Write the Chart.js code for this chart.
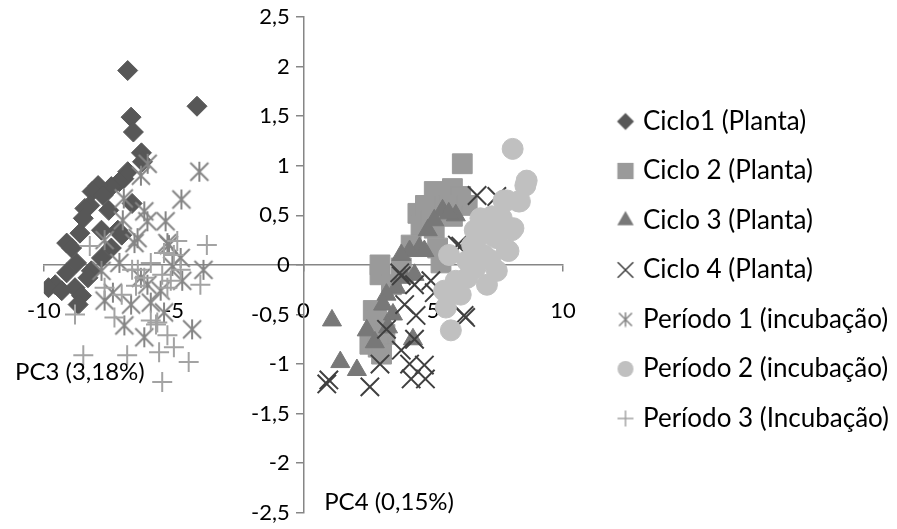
<!DOCTYPE html>
<html>
<head>
<meta charset="utf-8">
<script src="https://cdn.jsdelivr.net/npm/chart.js@4.4.1/dist/chart.umd.min.js"></script>
<style>
  html, body { margin: 0; padding: 0; background: #fff; }
  #wrap { width: 897px; height: 529px; position: relative; }
</style>
</head>
<body>
<div id="wrap"><canvas id="pcaChart"></canvas></div>
<script>
// PC3 x PC4 scores per group
const seriesNames = [
  'Ciclo1 (Planta)', 'Ciclo 2 (Planta)', 'Ciclo 3 (Planta)', 'Ciclo 4 (Planta)',
  'Período 1 (incubação)', 'Período 2 (incubação)', 'Período 3 (Incubação)'
];

const ciclo1 = [
  [-6.77, 1.96], [-4.10, 1.60], [-6.64, 1.49], [-6.55, 1.34], [-6.24, 1.13], [-6.20, 1.04],
  [-6.77, 0.94], [-6.92, 0.87], [-7.09, 0.84], [-7.40, 0.79], [-7.91, 0.80], [-8.14, 0.74],
  [-7.72, 0.70], [-6.60, 0.62], [-8.23, 0.60], [-8.42, 0.57], [-7.50, 0.55], [-8.48, 0.47],
  [-7.15, 0.35], [-7.78, 0.35], [-8.61, 0.32], [-7.00, 0.30], [-9.12, 0.22], [-8.93, 0.17],
  [-7.40, 0.17], [-7.78, 0.07], [-8.74, 0.02], [-8.17, -0.06], [-9.12, -0.08], [-8.30, -0.13],
  [-9.56, -0.20], [-9.82, -0.23], [-8.80, -0.23], [-9.31, -0.26], [-8.55, -0.31], [-8.68, -0.40]
];
const ciclo2 = [
  [6.12, 1.02], [5.04, 0.74], [5.74, 0.77], [6.06, 0.69], [4.41, 0.52], [5.17, 0.55],
  [5.61, 0.60], [6.31, 0.60], [5.74, 0.49], [4.53, 0.40], [5.04, 0.37], [4.15, 0.20],
  [5.17, 0.17], [5.30, 0.02], [2.95, 0.00], [3.77, -0.03], [2.95, -0.10], [3.39, -0.20],
  [2.69, -0.46], [2.82, -0.56], [3.14, -0.70], [2.56, -0.80], [2.88, -0.83], [3.01, -0.90],
  [4.70, 0.60], [4.90, 0.45]
];
const ciclo3 = [
  [5.36, 0.55], [5.87, 0.50], [5.60, 0.52], [5.04, 0.45], [4.79, 0.35], [4.47, 0.17],
  [4.09, 0.14], [4.66, 0.14], [3.77, 0.10], [4.28, -0.10], [3.90, -0.13], [3.58, -0.23],
  [3.20, -0.30], [3.07, -0.40], [3.45, -0.50], [3.26, -0.63], [2.44, -0.66], [2.75, -0.78],
  [4.22, -0.75], [1.10, -0.56], [1.42, -0.98], [2.06, -1.06]
];
const ciclo4 = [
  [6.69, 0.70], [7.45, 0.69], [6.06, 0.19], [5.93, 0.20], [3.71, -0.08], [3.77, -0.11],
  [4.28, -0.20], [4.91, -0.16], [5.04, -0.28], [3.90, -0.40], [4.34, -0.51], [6.19, -0.51],
  [6.25, -0.53], [3.20, -0.65], [4.28, -0.75], [3.77, -0.86], [4.09, -1.00], [4.66, -1.01],
  [2.95, -1.00], [4.15, -1.15], [0.98, -1.16], [2.56, -1.23], [4.70, -1.15], [0.90, -1.20]
];
const periodo1 = [
  [-6.00, 1.02], [-6.26, 0.90], [-4.01, 0.94], [-4.70, 0.66], [-6.92, 0.67], [-6.13, 0.54],
  [-6.96, 0.45], [-6.01, 0.44], [-5.31, 0.44], [-6.39, 0.27], [-5.24, 0.22], [-7.66, 0.25],
  [-6.51, 0.22], [-5.18, 0.20], [-3.85, -0.05], [-5.05, -0.01], [-4.67, -0.16], [-7.09, 0.02],
  [-6.26, -0.13], [-7.34, -0.28], [-7.66, -0.36], [-6.64, -0.40], [-5.88, -0.38], [-6.90, -0.61],
  [-6.13, -0.73], [-4.29, -0.65], [-5.37, -0.48], [-6.01, -0.20], [-7.78, -0.06], [-4.73, 0.07],
  [-5.50, -0.26]
];
const periodo2 = [
  [8.06, 1.17], [8.60, 0.85], [8.55, 0.80], [8.34, 0.64], [8.28, 0.64], [7.84, 0.65],
  [7.71, 0.65], [8.03, 0.35], [8.09, 0.37], [7.90, 0.14], [7.84, 0.15], [6.82, 0.47],
  [7.26, 0.49], [7.64, 0.47], [6.69, 0.27], [7.26, 0.30], [7.45, 0.27], [6.50, 0.20],
  [6.95, 0.10], [7.45, -0.06], [6.63, -0.03], [7.07, -0.20], [6.31, 0.04], [5.61, 0.10],
  [5.87, -0.16], [6.06, -0.30], [5.42, -0.26], [5.49, -0.43], [5.68, -0.66], [6.31, -0.13],
  [7.00, 0.45], [7.20, 0.05], [6.60, 0.35]
];
const periodo3 = [
  [-8.80, -0.50], [-8.48, -0.91], [-6.79, -0.91], [-5.44, -1.18], [-4.42, -0.98], [-5.56, -0.88],
  [-4.99, -0.83], [-5.24, -0.71], [-5.68, -0.60], [-7.28, -0.53], [-3.97, -0.20], [-5.11, -0.16],
  [-5.24, -0.23], [-6.13, -0.13], [-5.44, -0.10], [-6.38, -0.05], [-4.99, 0.10], [-4.86, 0.24],
  [-3.72, 0.20], [-5.37, 0.12], [-5.88, 0.02], [-4.73, -0.05], [-8.23, 0.19], [-6.45, -0.21],
  [-7.66, -0.23], [-5.88, -0.56], [-5.63, -0.58], [-6.60, -0.05], [-7.00, -0.30]
];

const xTickValues = [-10, -5, 0, 5, 10];
const yTickValues = [-2.5, -2, -1.5, -1, -0.5, 0, 0.5, 1, 1.5, 2, 2.5];
const xTitle = 'PC4 (0,15%)';
const yTitle = 'PC3 (3,18%)';

const FONT = 'Lato, "Open Sans", sans-serif';
const toPoints = arr => arr.map(([x, y]) => ({ x, y }));
const fmt = v => String(v).replace('.', ',');

// asterisk marker: an X with a vertical stroke through it
function asterisk(size, color, lw) {
  const c = document.createElement('canvas');
  c.width = c.height = size;
  const g = c.getContext('2d');
  const h = size / 2, k = h - lw;
  g.strokeStyle = color;
  g.lineWidth = lw;
  g.beginPath();
  g.moveTo(h, lw / 2); g.lineTo(h, size - lw / 2);
  g.moveTo(h - k, h - k); g.lineTo(h + k, h + k);
  g.moveTo(h + k, h - k); g.lineTo(h - k, h + k);
  g.stroke();
  return c;
}

// small pre-drawn legend symbol, so each shape can get its own size
function legendIcon(style, radius, color, lw) {
  const c = document.createElement('canvas');
  c.width = c.height = 26;
  const g = c.getContext('2d');
  g.fillStyle = color;
  g.strokeStyle = color;
  g.lineWidth = lw;
  Chart.helpers.drawPoint(g, { pointStyle: style, radius, rotation: 0, borderWidth: lw }, 13, 13);
  return c;
}

const starColor = '#858585';
const starBig = asterisk(22, starColor, 2);

const datasets = [
  { label: seriesNames[0], data: toPoints(ciclo1), pointStyle: 'rectRot', pointRadius: 10,
    backgroundColor: '#575757', borderColor: '#575757', borderWidth: 1 },
  { label: seriesNames[1], data: toPoints(ciclo2), pointStyle: 'rect', pointRadius: 14,
    backgroundColor: '#9a9a9a', borderColor: '#9a9a9a', borderWidth: 1 },
  { label: seriesNames[2], data: toPoints(ciclo3), pointStyle: 'triangle', pointRadius: 11,
    backgroundColor: '#787878', borderColor: '#787878', borderWidth: 1 },
  { label: seriesNames[3], data: toPoints(ciclo4), pointStyle: 'crossRot', pointRadius: 13,
    backgroundColor: '#404040', borderColor: '#404040', borderWidth: 2 },
  { label: seriesNames[4], data: toPoints(periodo1), pointStyle: starBig,
    backgroundColor: starColor, borderColor: starColor, borderWidth: 2 },
  { label: seriesNames[5], data: toPoints(periodo2), pointStyle: 'circle', pointRadius: 10.5,
    backgroundColor: '#c0c0c0', borderColor: '#c0c0c0', borderWidth: 1 },
  { label: seriesNames[6], data: toPoints(periodo3), pointStyle: 'cross', pointRadius: 10,
    backgroundColor: '#a3a3a3', borderColor: '#a3a3a3', borderWidth: 2 }
];
// later groups are painted over earlier ones
datasets.forEach((ds, i) => { ds.order = datasets.length - i; });

const legendIcons = [
  legendIcon('rectRot', 8.5, '#575757', 0),
  legendIcon('rect', 11.5, '#9a9a9a', 0),
  legendIcon('triangle', 9.5, '#787878', 0),
  legendIcon('crossRot', 11, '#404040', 1.5),
  asterisk(16, starColor, 1.5),
  legendIcon('circle', 8, '#c0c0c0', 0),
  legendIcon('cross', 8, '#a3a3a3', 1.5)
];

// axis titles sit next to the crossing axes, written horizontally
const axisTitles = {
  id: 'axisTitles',
  afterDraw(chart) {
    const { ctx, scales: { x, y } } = chart;
    ctx.save();
    ctx.font = '24px ' + FONT;
    ctx.fillStyle = '#000';
    ctx.textBaseline = 'middle';
    ctx.textAlign = 'left';
    ctx.fillText(yTitle, 15, y.getPixelForValue(-1.08));
    ctx.fillText(xTitle, x.getPixelForValue(0.8), y.getPixelForValue(-2.39));
    ctx.restore();
  }
};

// pull the legend column a little away from the plot
const legendOffset = {
  id: 'legendOffset',
  afterLayout(chart) {
    const lg = chart.legend;
    const left = chart.chartArea.right + 34.5;
    lg.right += left - lg.left;
    lg.left = left;
    lg.top += 3;
    lg.bottom += 3;
  }
};

new Chart(document.getElementById('pcaChart'), {
  type: 'scatter',
  data: { datasets },
  plugins: [axisTitles, legendOffset],
  options: {
    responsive: true,
    maintainAspectRatio: false,
    animation: false,
    events: [],
    layout: { padding: { left: 38, top: 17, bottom: 12, right: 34 } },
    scales: {
      x: {
        type: 'linear',
        min: -10, max: 10,
        position: { y: 0 },
        afterBuildTicks: axis => { axis.ticks = xTickValues.map(value => ({ value })); },
        grid: { drawOnChartArea: false, drawTicks: true, tickLength: 6, color: '#868686', lineWidth: 1.5 },
        border: { display: true, color: '#868686', width: 1.5 },
        ticks: { color: '#000', font: { family: FONT, size: 22 }, padding: 27, callback: fmt, maxRotation: 0 }
      },
      y: {
        type: 'linear',
        min: -2.5, max: 2.5,
        position: { x: 0 },
        afterBuildTicks: axis => { axis.ticks = yTickValues.map(value => ({ value })); },
        grid: { drawOnChartArea: false, drawTicks: true, tickLength: 7, color: '#868686', lineWidth: 1.5 },
        border: { display: true, color: '#868686', width: 1.5 },
        // labels of a centred axis are drawn flush to the line; trailing spaces keep them clear of it
        ticks: { color: '#000', font: { family: FONT, size: 22 }, callback: v => fmt(v) + '\u2002\u2009' }
      }
    },
    plugins: {
      tooltip: { enabled: false },
      legend: {
        position: 'right',
        align: 'center',
        maxWidth: 300,
        labels: {
          usePointStyle: true,
          boxWidth: 9,
          padding: 23.5,
          color: '#000',
          font: { family: FONT, size: 26 },
          sort: (a, b) => a.datasetIndex - b.datasetIndex,
          generateLabels(chart) {
            const items = Chart.defaults.plugins.legend.labels.generateLabels(chart);
            items.forEach(it => { it.pointStyle = legendIcons[it.datasetIndex]; });
            return items;
          }
        }
      }
    }
  }
});
</script>
</body>
</html>
